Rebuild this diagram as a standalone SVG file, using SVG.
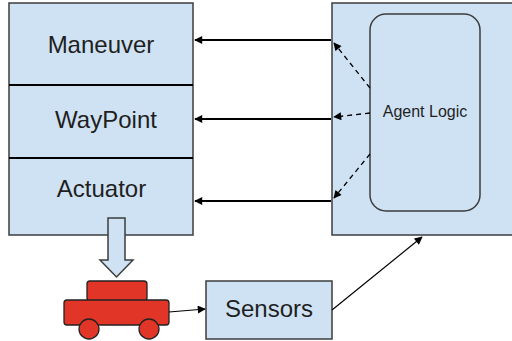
<svg xmlns="http://www.w3.org/2000/svg" width="512" height="341" viewBox="0 0 512 341">
  <style>
    .box { fill: #cfe2f3; stroke: #3c3c3c; stroke-width: 1.5; }
    .lbl { font-family: "Liberation Sans", Arial, sans-serif; fill: #1f1f1f; }
    .big { font-size: 24px; }
    .small { font-size: 16px; }
    .solid { stroke: #000; stroke-width: 2; fill: none; }
    .dash { stroke: #000; stroke-width: 1.3; stroke-dasharray: 5 4; fill: none; }
    .thin { stroke: #000; stroke-width: 1.2; fill: none; }
    .car { fill: #e03527; stroke: #222; stroke-width: 1.3; }
  </style>
  <defs>
    <marker id="ah" viewBox="0 0 10 10" refX="9" refY="5" markerWidth="10" markerHeight="8" markerUnits="userSpaceOnUse" orient="auto">
      <path d="M0,0 L10,5 L0,10 z" fill="#000"/>
    </marker>
  </defs>

  <!-- control stack -->
  <g id="control-stack">
    <rect class="box" x="9" y="3" width="184" height="232"/>
    <line x1="9" y1="85" x2="193" y2="85" stroke="#000" stroke-width="2"/>
    <line x1="9" y1="158" x2="193" y2="158" stroke="#000" stroke-width="2"/>
  </g>
  <g id="maneuver">
    <text class="lbl big" x="101" y="53" text-anchor="middle">Maneuver</text>
  </g>
  <g id="waypoint">
    <text class="lbl big" x="106" y="128" text-anchor="middle">WayPoint</text>
  </g>
  <g id="actuator">
    <text class="lbl big" x="101.5" y="197" text-anchor="middle">Actuator</text>
  </g>

  <!-- agent -->
  <g id="agent">
    <rect class="box" x="332" y="3" width="190" height="232"/>
  </g>
  <g id="agent-logic">
    <rect class="box" x="370" y="14" width="110" height="197" rx="16" ry="16"/>
    <text class="lbl small" x="425" y="117" text-anchor="middle">Agent Logic</text>
  </g>

  <!-- block arrow into vehicle -->
  <g id="drive-arrow">
    <path class="box" d="M108,218 L125,218 L125,260 L133,260 L116.5,277 L100,260 L108,260 z"/>
  </g>

  <!-- vehicle -->
  <g id="vehicle">
    <rect class="car" x="87" y="281" width="60" height="20" rx="3"/>
    <rect class="car" x="64" y="300" width="105" height="25" rx="3"/>
    <circle class="car" cx="89" cy="329" r="10"/>
    <circle class="car" cx="149" cy="329" r="10"/>
  </g>

  <g id="sensors">
    <rect class="box" x="206" y="281" width="126" height="58"/>
    <text class="lbl big" x="269" y="317" text-anchor="middle">Sensors</text>
  </g>

  <g id="connectors">
    <line class="solid" x1="331" y1="40" x2="195" y2="40" marker-end="url(#ah)"/>
    <line class="solid" x1="331" y1="119" x2="195" y2="119" marker-end="url(#ah)"/>
    <line class="solid" x1="331" y1="201" x2="195" y2="201" marker-end="url(#ah)"/>
    <line class="dash" x1="370" y1="88" x2="334" y2="43" marker-end="url(#ah)"/>
    <line class="dash" x1="370" y1="113" x2="334" y2="117" marker-end="url(#ah)"/>
    <line class="dash" x1="370" y1="154" x2="334" y2="198" marker-end="url(#ah)"/>
    <line class="thin" x1="169" y1="312" x2="205" y2="309" marker-end="url(#ah)"/>
    <line class="thin" x1="332" y1="310" x2="422" y2="237" marker-end="url(#ah)"/>
  </g>
</svg>
